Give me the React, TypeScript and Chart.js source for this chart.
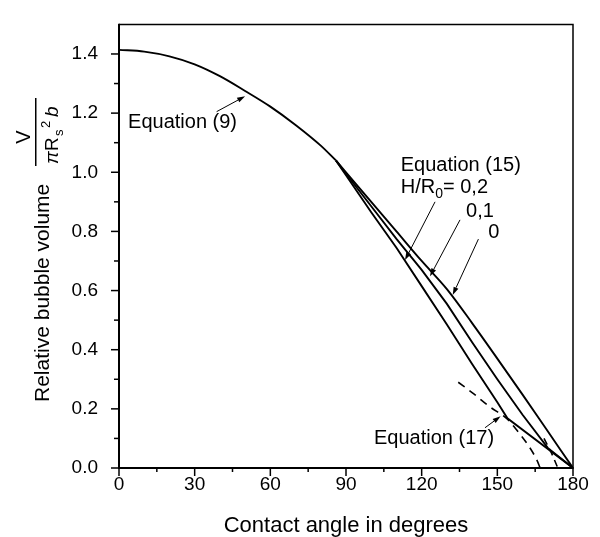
import React, { useEffect, useRef } from "react";
import { Chart, registerables } from "chart.js";

Chart.register(...registerables);

const FONT = '"Liberation Sans", Arial, Helvetica, sans-serif';

// ---- data (contact angle in degrees -> relative bubble volume) ----
const eq9Angles = [0, 10, 20, 30, 40, 50, 60, 70, 80, 86];
const eq9Volumes = [1.414, 1.408, 1.392, 1.365, 1.325, 1.275, 1.222, 1.16, 1.09, 1.04];

const eq15Angles = [86, 90, 100, 110, 120, 130, 140, 150, 160, 170, 180];
const eq15H0Volumes = [1.04, 1.0, 0.9, 0.8, 0.7, 0.605, 0.49, 0.37, 0.248, 0.124, 0];
const eq15H01Volumes = [1.04, 0.995, 0.885, 0.775, 0.67, 0.555, 0.425, 0.3, 0.18, 0.068, 0];

const eq15H02Angles = [86, 90, 100, 110, 120, 130, 140, 150, 154, 180];
const eq15H02Volumes = [1.04, 0.99, 0.865, 0.745, 0.615, 0.485, 0.352, 0.222, 0.168, 0];

const eq17Angles = [134.5, 140, 147, 154, 158, 162, 165.5, 167];
const eq17Volumes = [0.29, 0.255, 0.207, 0.165, 0.125, 0.08, 0.03, 0];
const eq17bAngles = [168.5, 171.5, 174];
const eq17bVolumes = [0.1, 0.05, 0];

// ---- axes ----
const xTickLabels = [0, 30, 60, 90, 120, 150, 180];
const yTickLabels = ["0.0", "0.2", "0.4", "0.6", "0.8", "1.0", "1.2", "1.4"];

// ---- annotations (data coordinates) ----
const noteAnchors: [number, number][] = [
  [3.6, 1.169],
  [111.7, 1.022],
  [111.7, 0.95],
  [137.6, 0.868],
  [146.4, 0.796],
  [101.1, 0.099],
];
const noteParts: { t: string; sub?: boolean }[][] = [
  [{ t: "Equation (9)" }],
  [{ t: "Equation (15)" }],
  [{ t: "H/R" }, { t: "0", sub: true }, { t: "= 0,2" }],
  [{ t: "0,1" }],
  [{ t: "0" }],
  [{ t: "Equation (17)" }],
];
const arrowTails: [number, number][] = [
  [38.7, 1.205],
  [125.3, 0.9],
  [135.2, 0.839],
  [142.5, 0.774],
  [145.1, 0.136],
];
const arrowTips: [number, number][] = [
  [50, 1.257],
  [113.4, 0.703],
  [123.3, 0.648],
  [132.3, 0.585],
  [151.3, 0.175],
];

const pts = (xs: number[], ys: number[]) => xs.map((x, i) => ({ x, y: ys[i] }));

const decorPlugin = {
  id: "decor",
  afterDraw(chart: any) {
    const { ctx, chartArea: a, scales } = chart;
    const xs = scales.x;
    const ys = scales.y;
    ctx.save();
    ctx.strokeStyle = "#000";
    ctx.fillStyle = "#000";
    ctx.lineCap = "butt";

    // frame
    ctx.lineWidth = 1.5;
    ctx.beginPath();
    ctx.moveTo(a.left, a.top);
    ctx.lineTo(a.right, a.top);
    ctx.lineTo(a.right, a.bottom);
    ctx.stroke();
    ctx.lineWidth = 2;
    ctx.beginPath();
    ctx.moveTo(a.left, a.top - 0.75);
    ctx.lineTo(a.left, a.bottom);
    ctx.lineTo(a.right + 0.75, a.bottom);
    ctx.stroke();

    // tick marks
    ctx.lineWidth = 1.5;
    xs.ticks.forEach((t: any) => {
      const major = xTickLabels.includes(Math.round(t.value));
      const px = xs.getPixelForValue(t.value);
      ctx.beginPath();
      ctx.moveTo(px, a.bottom);
      ctx.lineTo(px, a.bottom + (major ? 8 : 4));
      ctx.stroke();
    });
    ys.ticks.forEach((t: any) => {
      const k = Math.round(t.value * 10);
      if (k > 14) return;
      const major = k % 2 === 0;
      const py = ys.getPixelForValue(t.value);
      ctx.beginPath();
      ctx.moveTo(a.left, py);
      ctx.lineTo(a.left - (major ? 8 : 5), py);
      ctx.stroke();
    });

    // x axis title
    ctx.font = `22px ${FONT}`;
    ctx.textAlign = "center";
    ctx.textBaseline = "alphabetic";
    ctx.fillText("Contact angle in degrees", (a.left + a.right) / 2, 532);

    // y axis title (rotated) with fraction
    ctx.save();
    ctx.rotate(-Math.PI / 2);
    ctx.textAlign = "left";
    ctx.font = `21px ${FONT}`;
    ctx.fillText("Relative bubble volume", -402, 49);
    // numerator
    ctx.font = `20px ${FONT}`;
    ctx.textAlign = "center";
    ctx.fillText("V", -137, 30);
    // denominator
    ctx.textAlign = "left";
    ctx.font = `italic 19px ${FONT}`;
    ctx.fillText("\u03c0", -164, 58);
    ctx.font = `19px ${FONT}`;
    ctx.fillText("R", -151, 58);
    ctx.font = `13px ${FONT}`;
    ctx.fillText("s", -136, 63);
    ctx.fillText("2", -128, 50);
    ctx.font = `italic 19px ${FONT}`;
    ctx.fillText("b", -117, 58);
    ctx.restore();
    // fraction bar
    ctx.fillRect(35, 98, 1.5, 68);

    // annotations
    ctx.textAlign = "left";
    ctx.textBaseline = "middle";
    noteAnchors.forEach(([dx, dy], i) => {
      let px = xs.getPixelForValue(dx);
      const py = ys.getPixelForValue(dy);
      noteParts[i].forEach((p) => {
        ctx.font = p.sub ? `14px ${FONT}` : `20px ${FONT}`;
        ctx.fillText(p.t, px, p.sub ? py + 7 : py);
        px += ctx.measureText(p.t).width;
      });
    });

    // arrows
    ctx.lineWidth = 1;
    arrowTails.forEach(([tx, ty], i) => {
      const x0 = xs.getPixelForValue(tx);
      const y0 = ys.getPixelForValue(ty);
      const x1 = xs.getPixelForValue(arrowTips[i][0]);
      const y1 = ys.getPixelForValue(arrowTips[i][1]);
      const ang = Math.atan2(y1 - y0, x1 - x0);
      const L = 8;
      const W = 2.6;
      const bx = x1 - L * Math.cos(ang);
      const by = y1 - L * Math.sin(ang);
      ctx.beginPath();
      ctx.moveTo(x0, y0);
      ctx.lineTo(bx, by);
      ctx.stroke();
      ctx.beginPath();
      ctx.moveTo(x1, y1);
      ctx.lineTo(bx + W * Math.sin(ang), by - W * Math.cos(ang));
      ctx.lineTo(bx - W * Math.sin(ang), by + W * Math.cos(ang));
      ctx.closePath();
      ctx.fill();
    });
    ctx.restore();
  },
};

export default function App() {
  const ref = useRef<HTMLCanvasElement | null>(null);
  useEffect(() => {
    if (!ref.current) return;
    const line = (data: any[], extra: any = {}) => ({
      data,
      borderColor: "#000",
      borderWidth: 1.9,
      pointRadius: 0,
      fill: false,
      tension: 0,
      ...extra,
    });
    const chart = new Chart(ref.current, {
      type: "line",
      data: {
        datasets: [
          line(pts(eq9Angles, eq9Volumes), { cubicInterpolationMode: "monotone" }),
          line(pts(eq15Angles, eq15H0Volumes), { cubicInterpolationMode: "monotone" }),
          line(pts(eq15Angles, eq15H01Volumes)),
          line(pts(eq15H02Angles, eq15H02Volumes)),
          line(pts(eq17Angles, eq17Volumes), { borderDash: [8, 6], borderWidth: 1.6, cubicInterpolationMode: "monotone" }),
          line(pts(eq17bAngles, eq17bVolumes), { borderDash: [7, 5], borderWidth: 1.6 }),
        ],
      },
      options: {
        responsive: false,
        animation: false,
        events: [],
        layout: { padding: { top: 10, right: 27, left: 0, bottom: 0 } },
        plugins: { legend: { display: false }, tooltip: { enabled: false }, title: { display: false } },
        scales: {
          x: {
            type: "linear",
            min: 0,
            max: 180,
            border: { display: false },
            grid: { display: false },
            afterFit: (s: any) => {
              s.height = 69;
            },
            ticks: {
              stepSize: 15,
              autoSkip: false,
              maxRotation: 0,
              padding: -3,
              color: "#000",
              font: { family: FONT, size: 19 },
              callback: (v: any) => (xTickLabels.includes(Math.round(v)) ? String(Math.round(v)) : ""),
            },
          },
          y: {
            type: "linear",
            min: 0,
            max: 1.5,
            border: { display: false },
            grid: { display: false },
            afterFit: (s: any) => {
              s.width = 119;
            },
            ticks: {
              stepSize: 0.1,
              autoSkip: false,
              padding: 13,
              color: "#000",
              font: { family: FONT, size: 19 },
              callback: (v: any) => {
                const k = Math.round(v * 10);
                return k % 2 === 0 && k <= 14 ? yTickLabels[k / 2] : "";
              },
            },
          },
        },
      },
      plugins: [decorPlugin],
    });
    return () => chart.destroy();
  }, []);
  return (
    <div style={{ position: "fixed", left: 0, top: 0, width: 600, height: 537, background: "#fff" }}>
      <canvas ref={ref} width={600} height={537} />
    </div>
  );
}
